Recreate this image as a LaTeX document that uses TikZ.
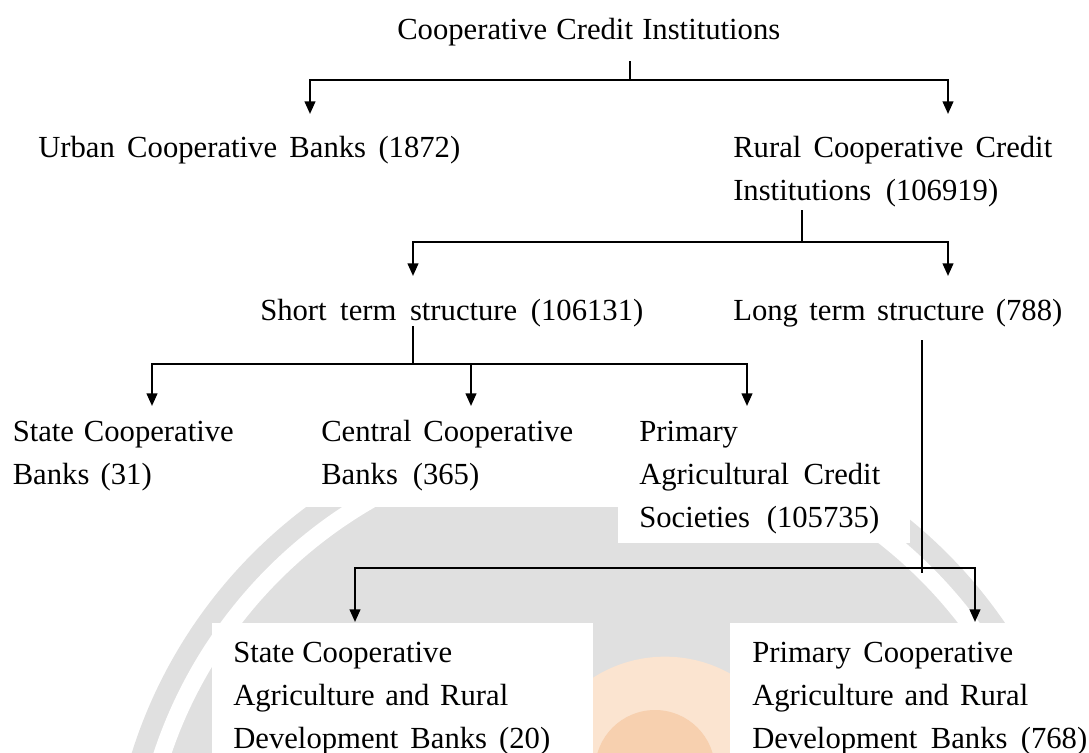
\documentclass[tikz,border=0pt]{standalone}
\usepackage{fontspec}
\setmainfont{Liberation Serif}
\usetikzlibrary{arrows.meta}
\newlength\pxu
\setlength\pxu{0.75pt}
\newcommand\J[2]{\makebox[#1\pxu][s]{#2}}
\definecolor{wmgrey}{RGB}{224,224,224}
\definecolor{wmorange}{RGB}{251,228,208}
\definecolor{wmorangeb}{RGB}{247,208,175}
\begin{document}
\begin{tikzpicture}[x=0.75pt,y=-0.75pt,
  lbl/.style={anchor=base west,inner sep=0pt,font=\fontsize{23}{32.25}\selectfont},
  conn/.style={line width=1.6pt,black},
  arr/.style={conn,-{Triangle[width=8pt,length=9.5pt]}},
  blank/.style={fill=white,draw=none}]
\useasboundingbox (0,0) rectangle (1089,753);
% faint watermark
\begin{scope}
  \clip (0,507) rectangle (1089,753);
  \fill[wmgrey] (600,900) circle (368pt);
  \draw[white,line width=13pt] (600,900) circle (346pt);
  \begin{scope}
    \clip (0,621) rectangle (1089,753);
    \fill[wmorange] (665,790) circle (100pt);
    \fill[wmorangeb] (655,770) circle (45pt);
  \end{scope}
\end{scope}
\fill[blank] (212,623) rectangle (593,753);
\fill[blank] (730,623) rectangle (1089,753);
\fill[blank] (618,505) rectangle (910,543);
% texts
\node[lbl] (title) at (397,39) {\J{383}{Cooperative Credit Institutions}};
\node[lbl] (urban) at (38,157) {\J{422}{Urban Cooperative Banks (1872)}};
\node[lbl] (rural) at (733,157) {\begin{tabular}[t]{@{}l@{}}\J{319}{Rural Cooperative Credit}\\\J{265}{Institutions (106919)}\end{tabular}};
\node[lbl] (short) at (260,320) {\J{383}{Short term structure (106131)}};
\node[lbl] (long) at (733,320) {\J{329}{Long term structure (788)}};
\node[lbl] (scb) at (12.5,441) {\begin{tabular}[t]{@{}l@{}}\J{221}{State Cooperative}\\\J{139}{Banks (31)}\end{tabular}};
\node[lbl] (ccb) at (321,441) {\begin{tabular}[t]{@{}l@{}}\J{252}{Central Cooperative}\\\J{158}{Banks (365)}\end{tabular}};
\node[lbl] (pacs) at (639,441) {\begin{tabular}[t]{@{}l@{}}Primary\\\J{241}{Agricultural Credit}\\\J{240}{Societies (105735)}\end{tabular}};
\node[lbl] (scardb) at (233,662) {\begin{tabular}[t]{@{}l@{}}State Cooperative\\\J{275}{Agriculture and Rural}\\\J{317}{Development Banks (20)}\end{tabular}};
\node[lbl] (pcardb) at (752,662) {\begin{tabular}[t]{@{}l@{}}\J{261}{Primary Cooperative}\\\J{276}{Agriculture and Rural}\\\J{335}{Development Banks (768)}\end{tabular}};
% connector points
\coordinate (s1) at (630,61);  \coordinate (j1) at (630,80);
\coordinate (a1L) at (310,114); \coordinate (a1R) at (948,114);
\coordinate (s2) at (802,210); \coordinate (j2) at (802,242);
\coordinate (a2L) at (413,276); \coordinate (a2R) at (948,276);
\coordinate (s3) at (413,326); \coordinate (j3) at (413,364);
\coordinate (a3a) at (152,406); \coordinate (a3b) at (471,406); \coordinate (a3c) at (747,406);
\coordinate (s4) at (922,340); \coordinate (j4) at (922,568); \coordinate (e4) at (922,573);
\coordinate (a4L) at (355,622); \coordinate (a4R) at (975,622);
% connectors
\draw[conn] (s1) -- (j1);
\draw[arr] (j1) -| (a1L);
\draw[arr] (j1) -| (a1R);
\draw[conn] (s2) -- (j2);
\draw[arr] (j2) -| (a2L);
\draw[arr] (j2) -| (a2R);
\draw[conn] (s3) -- (j3);
\draw[arr] (j3) -| (a3a);
\draw[arr] (j3) -| (a3b);
\draw[arr] (j3) -| (a3c);
\draw[conn,line width=1.2pt] (s4) -- (e4);
\draw[arr] (j4) -| (a4L);
\draw[arr] (j4) -| (a4R);
\end{tikzpicture}
\end{document}
